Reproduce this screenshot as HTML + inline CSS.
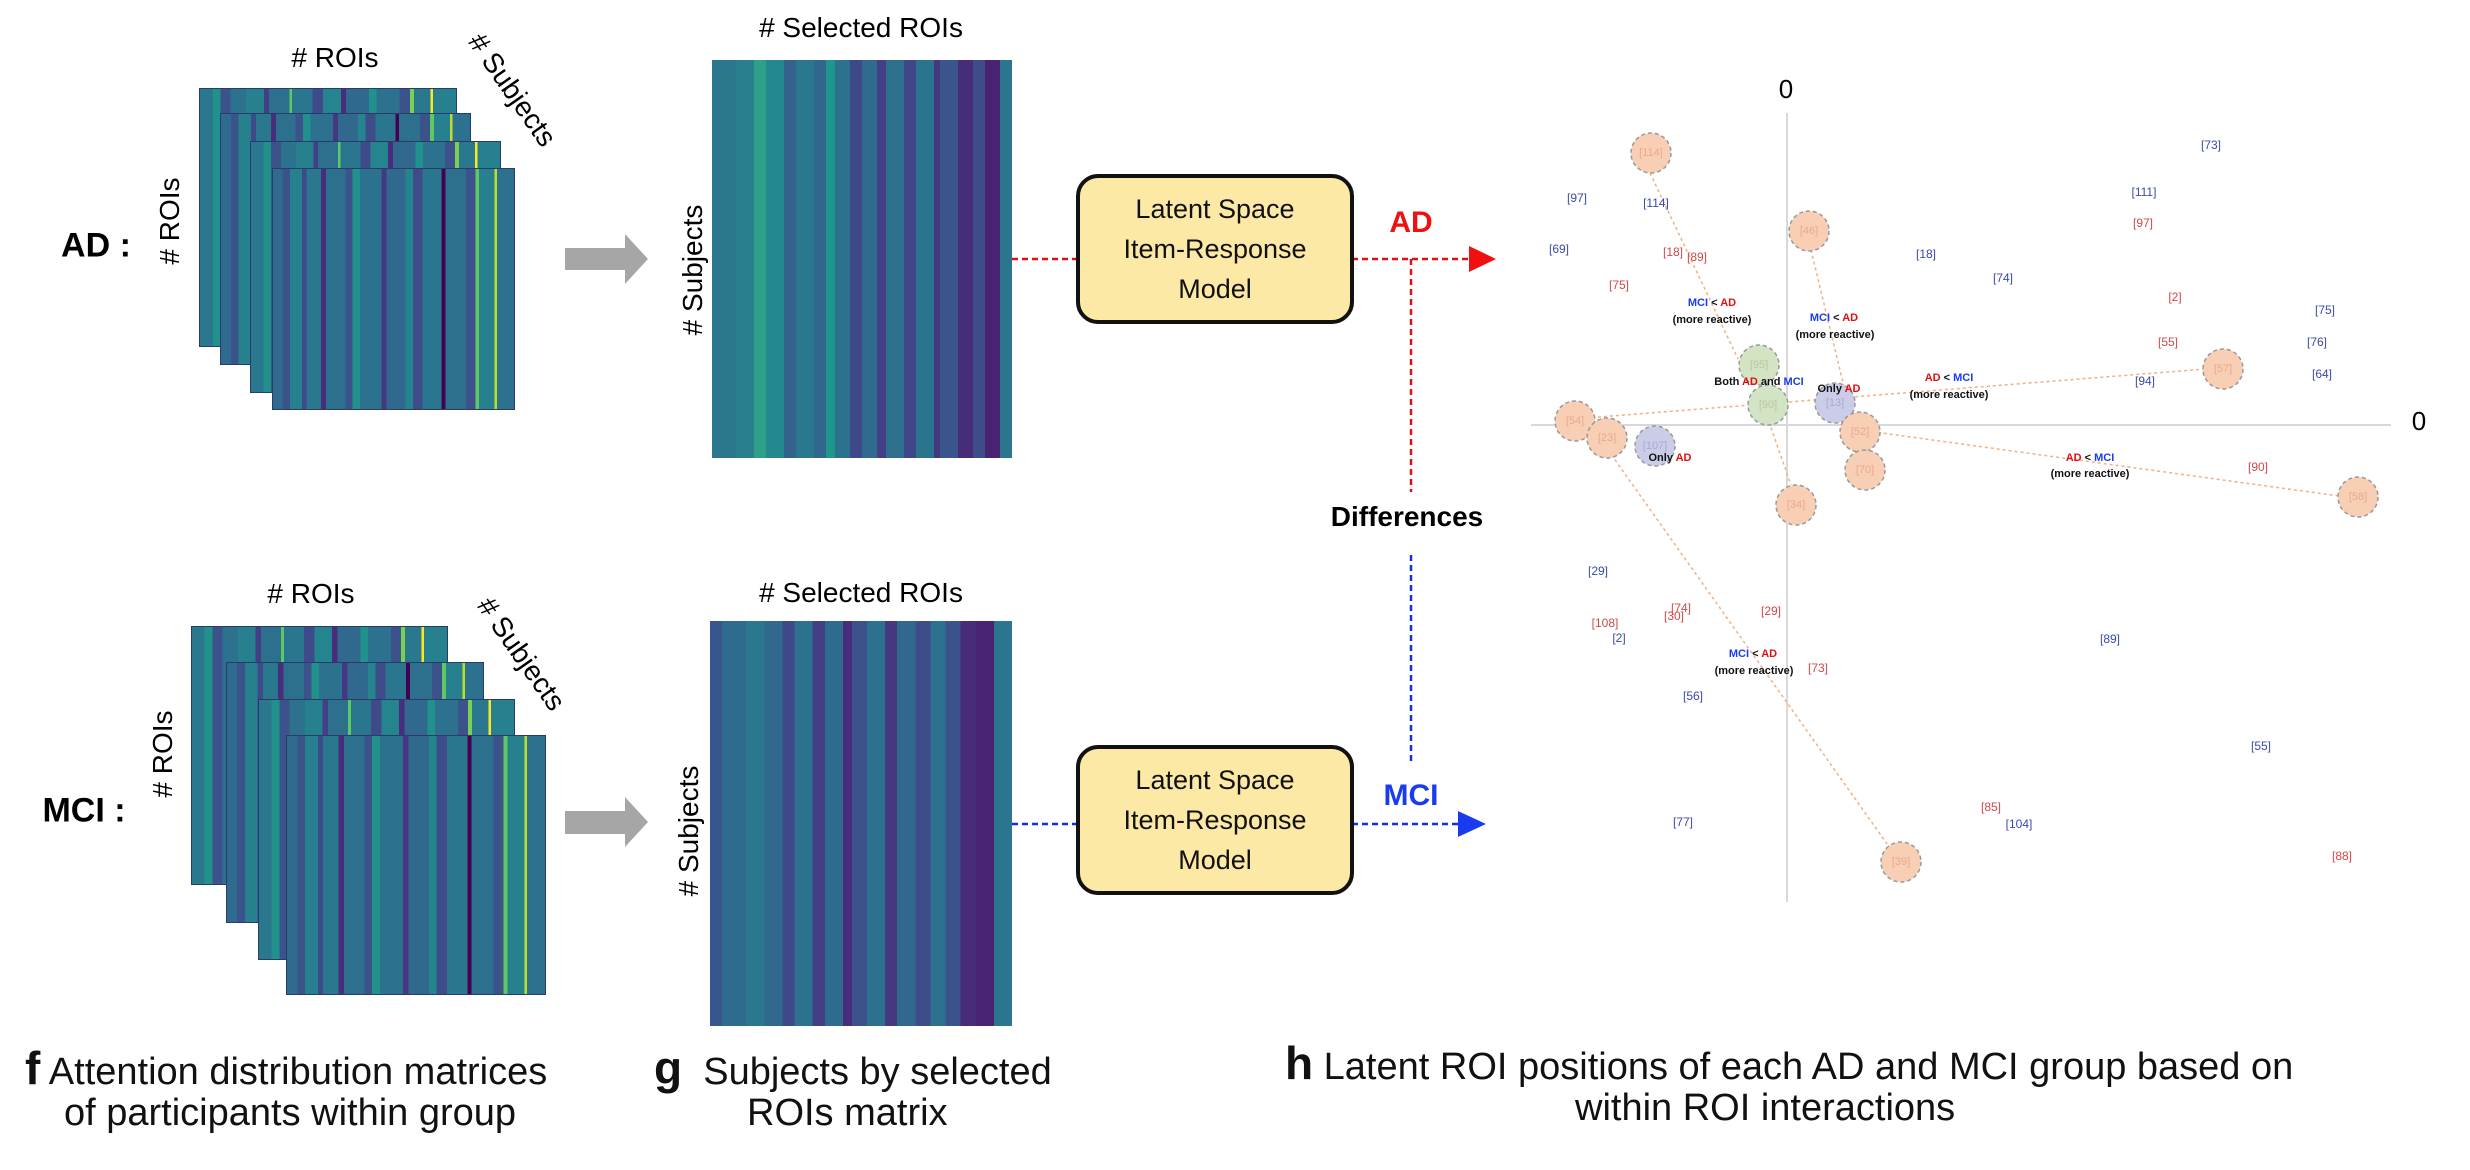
<!DOCTYPE html>
<html><head><meta charset="utf-8"><style>
body{margin:0;width:2470px;height:1170px;background:#fff;position:relative;overflow:hidden;font-family:"Liberation Sans Narrow","Liberation Sans",sans-serif;}
.a{position:absolute;}
.fr{position:absolute;background:linear-gradient(90deg,#2f6b8e 0 4%,#3a548b 4% 7%,#27808e 7% 12%,#3e4a89 12% 14%,#2a788e 14% 20%,#472d7b 20% 22%,#2d708e 22% 30%,#3b528b 30% 33%,#21918c 33% 36%,#2c728e 36% 45%,#453781 45% 47%,#31688e 47% 55%,#25858e 55% 58%,#3e4c8a 58% 62%,#2a768e 62% 70%,#440154 70% 71.5%,#2d708e 71.5% 80%,#3b528b 80% 84%,#5ec962 84% 85.5%,#27808e 85.5% 92%,#bddf26 92% 93%,#2c728e 93% 100%);border:1px solid #2a3a6a;box-sizing:border-box;}
.fr2{background:linear-gradient(90deg,#2a788e 0 5%,#21918c 5% 8%,#3b528b 8% 12%,#2c728e 12% 18%,#27808e 18% 25%,#433e85 25% 27%,#2d708e 27% 35%,#5ec962 35% 36%,#2a768e 36% 44%,#3e4a89 44% 48%,#25858e 48% 55%,#472d7b 55% 57%,#31688e 57% 66%,#21918c 66% 69%,#2c728e 69% 78%,#3b528b 78% 82%,#7ad151 82% 83.5%,#2a788e 83.5% 90%,#fde725 90% 91%,#27808e 91% 100%);}
.t{position:absolute;white-space:nowrap;transform:translate(-50%,-50%);}
.box{position:absolute;background:#fde9a6;border:4px solid #111;border-radius:22px;box-sizing:border-box;display:flex;align-items:center;justify-content:center;text-align:center;font-size:27px;line-height:40px;color:#111;}
.cap{position:absolute;font-size:38px;color:#111;white-space:nowrap;}
</style></head><body>

<div class="fr fr2" style="left:199px;top:88px;width:258px;height:259px"></div>
<div class="fr" style="left:220px;top:113px;width:251px;height:252px"></div>
<div class="fr fr2" style="left:250px;top:141px;width:251px;height:252px"></div>
<div class="fr" style="left:272px;top:168px;width:243px;height:242px"></div>
<div class="t" style="left:335px;top:58px;font-size:28px"># ROIs</div>
<div class="t" style="left:512px;top:90px;font-size:28px;transform:translate(-50%,-50%) rotate(55deg)"># Subjects</div>
<div class="t" style="left:170px;top:221px;font-size:28px;transform:translate(-50%,-50%) rotate(-90deg)"># ROIs</div>
<div class="t" style="left:96px;top:246px;font-size:34px;font-weight:bold">AD :</div>

<div class="fr fr2" style="left:191px;top:626px;width:257px;height:259px"></div>
<div class="fr" style="left:226px;top:662px;width:258px;height:261px"></div>
<div class="fr fr2" style="left:258px;top:699px;width:257px;height:261px"></div>
<div class="fr" style="left:286px;top:735px;width:260px;height:260px"></div>
<div class="t" style="left:311px;top:594px;font-size:28px"># ROIs</div>
<div class="t" style="left:521px;top:654px;font-size:28px;transform:translate(-50%,-50%) rotate(55deg)"># Subjects</div>
<div class="t" style="left:163px;top:754px;font-size:28px;transform:translate(-50%,-50%) rotate(-90deg)"># ROIs</div>
<div class="t" style="left:84px;top:811px;font-size:34px;font-weight:bold">MCI :</div>

<svg class="a" style="left:0;top:0" width="2470" height="1170">
<polygon points="565,248 625,248 625,234 648,259 625,284 625,270 565,270" fill="#a6a6a6"/>
<polygon points="565,811 625,811 625,797 648,822 625,847 625,834 565,834" fill="#a6a6a6"/>
<g stroke-width="2.5" stroke-dasharray="6,4" fill="none">
<line x1="1012" y1="259" x2="1077" y2="259" stroke="#e01010"/>
<line x1="1352" y1="259" x2="1470" y2="259" stroke="#e01010"/>
<line x1="1411" y1="259" x2="1411" y2="492" stroke="#e01010"/>
<line x1="1012" y1="824" x2="1077" y2="824" stroke="#1530e0"/>
<line x1="1352" y1="824" x2="1458" y2="824" stroke="#1530e0"/>
<line x1="1411" y1="555" x2="1411" y2="765" stroke="#1530e0"/>
</g>
<polygon points="1469,246 1496,259 1469,272" fill="#f01010"/>
<polygon points="1458,811 1486,824 1458,837" fill="#1a3cf0"/>
</svg>

<div class="a" style="left:712px;top:60px;width:300px;height:398px;background:linear-gradient(90deg,#2a778e 0 8%,#2a7f8e 8% 14%,#2ea08a 14% 18%,#23898e 18% 24%,#33628d 24% 28%,#2a788e 28% 34%,#31678e 34% 38%,#1f968b 38% 41%,#2c728e 41% 46%,#3e4989 46% 50%,#2f6b8e 50% 55%,#433e85 55% 58%,#2e6f8e 58% 64%,#3f4788 64% 68%,#2b748e 68% 74%,#453781 74% 76%,#39568c 76% 82%,#472c7a 82% 87%,#3e4c8a 87% 91%,#482374 91% 96%,#2a768e 96% 100%)"></div>
<div class="a" style="left:710px;top:621px;width:302px;height:405px;background:linear-gradient(90deg,#39568c 0 4%,#2f6b8e 4% 12%,#2a788e 12% 18%,#31688e 18% 24%,#3e4989 24% 28%,#2c728e 28% 34%,#433e85 34% 38%,#2f6b8e 38% 44%,#472d7b 44% 47%,#3b528b 47% 52%,#2c728e 52% 58%,#453781 58% 62%,#31688e 62% 68%,#3e4c8a 68% 73%,#2c728e 73% 78%,#3b528b 78% 83%,#472c7a 83% 88%,#482374 88% 94%,#2a768e 94% 100%)"></div>
<div class="t" style="left:861px;top:28px;font-size:28px"># Selected ROIs</div>
<div class="t" style="left:861px;top:593px;font-size:28px"># Selected ROIs</div>
<div class="t" style="left:693px;top:270px;font-size:28px;transform:translate(-50%,-50%) rotate(-90deg)"># Subjects</div>
<div class="t" style="left:689px;top:831px;font-size:28px;transform:translate(-50%,-50%) rotate(-90deg)"># Subjects</div>

<div class="box" style="left:1076px;top:174px;width:278px;height:150px">Latent Space<br>Item-Response<br>Model</div>
<div class="box" style="left:1076px;top:745px;width:278px;height:150px">Latent Space<br>Item-Response<br>Model</div>
<div class="t" style="left:1411px;top:223px;font-size:30px;font-weight:bold;color:#f01010">AD</div>
<div class="t" style="left:1411px;top:796px;font-size:30px;font-weight:bold;color:#1a3cf0">MCI</div>
<div class="t" style="left:1407px;top:517px;font-size:28px;font-weight:bold">Differences</div>

<div class="cap" style="left:25px;top:1041px"><b style="font-size:46px">f</b> Attention distribution matrices</div>
<div class="cap" style="left:64px;top:1092px">of participants within group</div>
<div class="cap" style="left:654px;top:1041px"><b style="font-size:46px">g</b>&nbsp; Subjects by selected</div>
<div class="cap" style="left:747px;top:1092px">ROIs matrix</div>
<div class="cap" style="left:1285px;top:1036px"><b style="font-size:46px">h</b> Latent ROI positions of each AD and MCI group based on</div>
<div class="cap" style="left:1575px;top:1087px">within ROI interactions</div>

<svg class="a" style="left:0;top:0" width="2470" height="1170" font-family="Liberation Sans, sans-serif">
<line x1="1787" y1="113" x2="1787" y2="902" stroke="#d8d8d8" stroke-width="2"/>
<line x1="1531" y1="425" x2="2391" y2="425" stroke="#d8d8d8" stroke-width="2"/>
<text x="1786" y="98" font-size="26" text-anchor="middle">0</text>
<text x="2419" y="430" font-size="26" text-anchor="middle">0</text>
<g stroke="#f0b080" stroke-width="1.5" stroke-dasharray="3,3">
<line x1="1650" y1="173" x2="1738" y2="359"/>
<line x1="1811" y1="250" x2="1847" y2="399"/>
<line x1="1574" y1="419" x2="2206" y2="369"/>
<line x1="1860" y1="430" x2="2339" y2="496"/>
<line x1="1608" y1="450" x2="1890" y2="848"/>
<line x1="1769" y1="422" x2="1791" y2="485"/>
</g>
<g stroke="#999" stroke-width="1.5" stroke-dasharray="4,3">
<circle cx="1651" cy="153" r="20" fill="#f8cfb5"/>
<circle cx="1809" cy="231" r="20" fill="#f8cfb5"/>
<circle cx="1759" cy="365" r="20" fill="#d2e4c4"/>
<circle cx="1768" cy="405" r="20" fill="#d2e4c4"/>
<circle cx="1835" cy="403" r="20" fill="#cbcde8"/>
<circle cx="1860" cy="432" r="20" fill="#f8cfb5"/>
<circle cx="1865" cy="470" r="20" fill="#f8cfb5"/>
<circle cx="1575" cy="421" r="20" fill="#f8cfb5"/>
<circle cx="1607" cy="438" r="20" fill="#f8cfb5"/>
<circle cx="1655" cy="446" r="20" fill="#cbcde8"/>
<circle cx="1796" cy="505" r="20" fill="#f8cfb5"/>
<circle cx="2223" cy="369" r="20" fill="#f8cfb5"/>
<circle cx="2358" cy="497" r="20" fill="#f8cfb5"/>
<circle cx="1901" cy="862" r="20" fill="#f8cfb5"/>
</g>
<g font-size="11" fill="#e8a890" text-anchor="middle" dominant-baseline="middle">
<text x="1651" y="153">[114]</text><text x="1809" y="231">[46]</text><text x="1759" y="365" fill="#b8c8a0">[95]</text><text x="1768" y="405" fill="#b8c8a0">[90]</text><text x="1835" y="403" fill="#a8a8d0">[13]</text><text x="1860" y="432">[52]</text><text x="1865" y="470">[70]</text><text x="1575" y="421">[54]</text><text x="1607" y="438">[23]</text><text x="1655" y="446" fill="#a8a8d0">[107]</text><text x="1796" y="505">[34]</text><text x="2223" y="369">[57]</text><text x="2358" y="497">[58]</text><text x="1901" y="862">[39]</text>
</g>
<g font-size="12" fill="#3a4aa8" text-anchor="middle" dominant-baseline="middle">
<text x="1577" y="199">[97]</text><text x="1559" y="250">[69]</text><text x="1656" y="204">[114]</text><text x="1926" y="255">[18]</text><text x="2003" y="279">[74]</text><text x="2211" y="146">[73]</text><text x="2144" y="193">[111]</text><text x="2325" y="311">[75]</text><text x="2317" y="343">[76]</text><text x="2322" y="375">[64]</text><text x="2145" y="382">[94]</text><text x="1598" y="572">[29]</text><text x="1619" y="639">[2]</text><text x="1693" y="697">[56]</text><text x="2110" y="640">[89]</text><text x="2261" y="747">[55]</text><text x="2019" y="825">[104]</text><text x="1683" y="823">[77]</text>
</g>
<g font-size="12" fill="#d04848" text-anchor="middle" dominant-baseline="middle">
<text x="1673" y="253">[18]</text><text x="1697" y="258">[89]</text><text x="1619" y="286">[75]</text><text x="2143" y="224">[97]</text><text x="2175" y="298">[2]</text><text x="2168" y="343">[55]</text><text x="2258" y="468">[90]</text><text x="1681" y="609">[74]</text><text x="1674" y="617">[30]</text><text x="1771" y="612">[29]</text><text x="1605" y="624">[108]</text><text x="1818" y="669">[73]</text><text x="1991" y="808">[85]</text><text x="2342" y="857">[88]</text>
</g>
<g font-size="11" font-weight="bold" text-anchor="middle" dominant-baseline="middle" fill="#111">
<text x="1712" y="303"><tspan fill="#1a3cf0">MCI</tspan> &lt; <tspan fill="#e01010">AD</tspan></text><text x="1712" y="320">(more reactive)</text>
<text x="1834" y="318"><tspan fill="#1a3cf0">MCI</tspan> &lt; <tspan fill="#e01010">AD</tspan></text><text x="1835" y="335">(more reactive)</text>
<text x="1759" y="382">Both <tspan fill="#e01010">AD</tspan> and <tspan fill="#1a3cf0">MCI</tspan></text>
<text x="1839" y="389">Only <tspan fill="#e01010">AD</tspan></text>
<text x="1949" y="378"><tspan fill="#e01010">AD</tspan> &lt; <tspan fill="#1a3cf0">MCI</tspan></text><text x="1949" y="395">(more reactive)</text>
<text x="1670" y="458">Only <tspan fill="#e01010">AD</tspan></text>
<text x="2090" y="458"><tspan fill="#e01010">AD</tspan> &lt; <tspan fill="#1a3cf0">MCI</tspan></text><text x="2090" y="474">(more reactive)</text>
<text x="1753" y="654"><tspan fill="#1a3cf0">MCI</tspan> &lt; <tspan fill="#e01010">AD</tspan></text><text x="1754" y="671">(more reactive)</text>
</g>
</svg>
</body></html>
